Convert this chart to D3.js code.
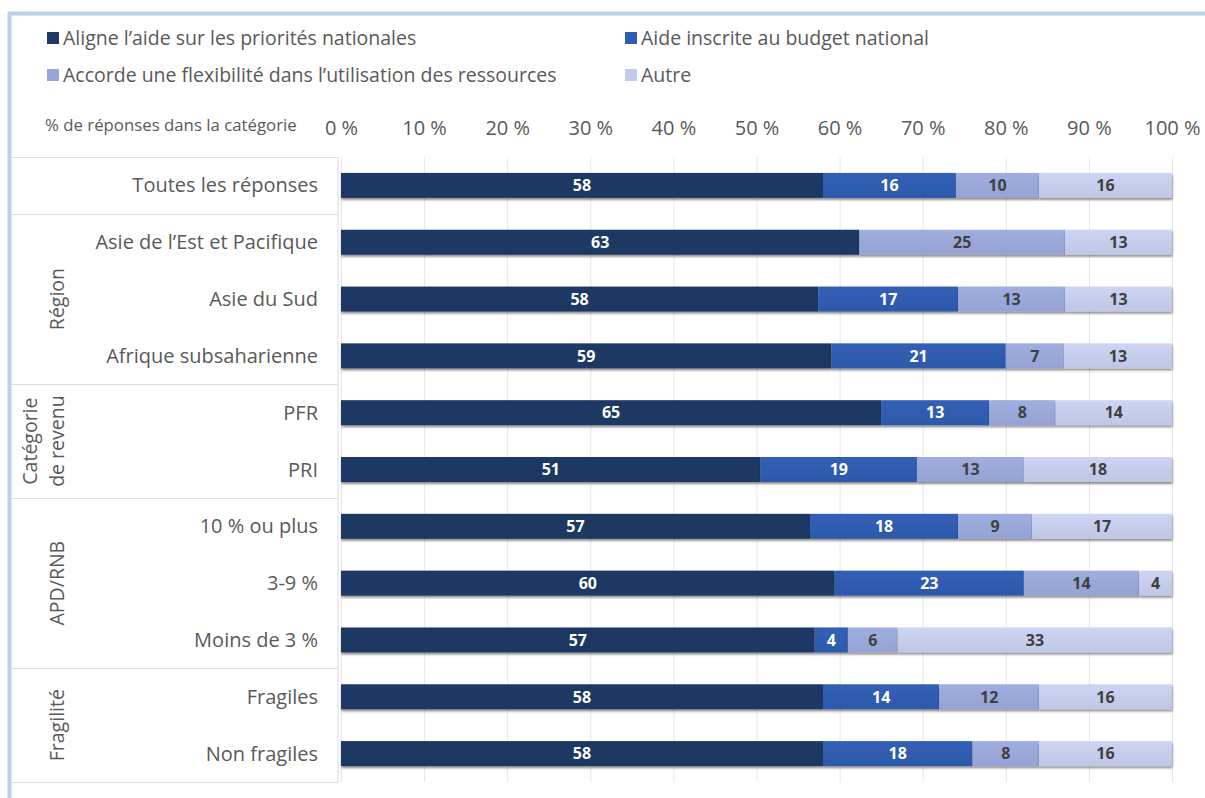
<!DOCTYPE html>
<html>
<head>
<meta charset="utf-8">
<script src="https://cdn.jsdelivr.net/npm/d3@7"></script>
<style>
  html, body { margin: 0; padding: 0; background: #ffffff; }
  svg { display: block; }
  text { font-family: "Open Sans", "Noto Sans", sans-serif; }
</style>
</head>
<body>
<svg id="chart" width="1205" height="798"></svg>
<script>
// Series (stack order, left to right)
const seriesNames = [
  "Aligne l’aide sur les priorités nationales",
  "Aide inscrite au budget national",
  "Accorde une flexibilité dans l’utilisation des ressources",
  "Autre"
];
const seriesKeys = ["aligne", "budget", "flex", "autre"];
const seriesColors = ["#1f3864", "#2f5bae", "#98a6d7", "#c4cbea"];
const labelColors = ["#ffffff", "#ffffff", "#3f3f3f", "#3f3f3f"];

// Row categories and their groups
const categories = [
  "Toutes les réponses",
  "Asie de l’Est et Pacifique", "Asie du Sud", "Afrique subsaharienne",
  "PFR", "PRI",
  "10 % ou plus", "3-9 %", "Moins de 3 %",
  "Fragiles", "Non fragiles"
];
const groupNames = [[""], ["Région"], ["Catégorie", "de revenu"], ["APD/RNB"], ["Fragilité"]];
const groupSizes = [1, 3, 2, 3, 2];

// Values (% of responses) per series, in category order
const aligneValues = [58, 63, 58, 59, 65, 51, 57, 60, 57, 58, 58];
const budgetValues = [16, 0, 17, 21, 13, 19, 18, 23, 4, 14, 18];
const flexValues   = [10, 25, 13, 7, 8, 13, 9, 14, 6, 12, 8];
const autreValues  = [16, 13, 13, 13, 14, 18, 17, 4, 33, 16, 16];

const tickValues = [0, 0.1, 0.2, 0.3, 0.4, 0.5, 0.6, 0.7, 0.8, 0.9, 1.0];
const axisTitle = "% de réponses dans la catégorie";

const rows = categories.map((c, i) => ({
  category: c,
  aligne: aligneValues[i],
  budget: budgetValues[i],
  flex: flexValues[i],
  autre: autreValues[i]
}));

const svg = d3.select("#chart");
const textGray = "#595959";
const fs = 19.5;

// Outer frame
svg.append("line").attr("x1", 8).attr("x2", 1205).attr("y1", 13.5).attr("y2", 13.5)
  .attr("stroke", "#bcd0ea").attr("stroke-width", 4);
svg.append("line").attr("x1", 9.5).attr("x2", 9.5).attr("y1", 12).attr("y2", 798)
  .attr("stroke", "#bcd0ea").attr("stroke-width", 4);

// Scales
const x = d3.scaleLinear().domain([0, 1]).range([341, 1172]);
const y = d3.scaleBand().domain(categories).range([157, 782])
  .paddingInner(0.56).paddingOuter(0.28);
const step = y.step();

// Defs: gradients and bar shadow
const defs = svg.append("defs");
seriesColors.forEach((c, i) => {
  const g = defs.append("linearGradient").attr("id", "grad" + i)
    .attr("x1", 0).attr("x2", 0).attr("y1", 0).attr("y2", 1);
  const base = d3.color(c);
  g.append("stop").attr("offset", "0%").attr("stop-color", i === 0 ? base.formatHex() : base.brighter(0.12).formatHex());
  g.append("stop").attr("offset", "100%").attr("stop-color", i === 0 ? base.formatHex() : base.darker(0.06).formatHex());
});
const shadow = defs.append("filter").attr("id", "shadow")
  .attr("x", "-2%").attr("y", "-20%").attr("width", "104%").attr("height", "160%");
shadow.append("feDropShadow").attr("dx", 0.5).attr("dy", 2)
  .attr("stdDeviation", 1.2).attr("flood-color", "#000000").attr("flood-opacity", 0.45);

// Gridlines
svg.append("g").selectAll("line").data(tickValues).join("line")
  .attr("x1", d => x(d) + 0.5).attr("x2", d => x(d) + 0.5)
  .attr("y1", 157).attr("y2", 782)
  .attr("stroke", "#e6e6e6").attr("stroke-width", 1);

// Top axis labels
const axis = d3.axisTop(x).tickValues(tickValues)
  .tickFormat(d => Math.round(d * 100) + " %").tickSize(0).tickPadding(0);
const axisG = svg.append("g").attr("transform", "translate(0,135)").call(axis);
axisG.select(".domain").remove();
axisG.selectAll("text").attr("fill", textGray).attr("font-size", 20)
  .attr("font-family", "\"Open Sans\", sans-serif");

svg.append("text").attr("x", 45).attr("y", 131).attr("fill", textGray)
  .attr("font-size", 16.8).text(axisTitle);

// Category table on the left
const tableLeft = 12, tableRight = 338;
let startIdx = 0;
const groupBounds = groupSizes.map(n => {
  const top = y(categories[startIdx]) - step * 0.28;
  const bottom = top + n * step;
  startIdx += n;
  return [top, bottom];
});
svg.append("line").attr("x1", tableRight).attr("x2", tableRight).attr("y1", 157).attr("y2", 782)
  .attr("stroke", "#dcdcdc");
const bounds = [157].concat(groupBounds.map(b => b[1]));
svg.append("g").selectAll("line").data(bounds).join("line")
  .attr("x1", tableLeft).attr("x2", tableRight)
  .attr("y1", d => Math.round(d) + 0.5).attr("y2", d => Math.round(d) + 0.5)
  .attr("stroke", "#dcdcdc");

svg.append("g").selectAll("text").data(categories).join("text")
  .attr("x", 318).attr("y", d => y(d) + y.bandwidth() / 2)
  .attr("dy", "0.35em").attr("text-anchor", "end")
  .attr("fill", textGray).attr("font-size", 20).text(d => d);

groupNames.forEach((lines, gi) => {
  if (!lines[0]) return;
  const cy = (groupBounds[gi][0] + groupBounds[gi][1]) / 2;
  const cx = lines.length > 1 ? 30 : 57;
  const t = svg.append("text")
    .attr("transform", `translate(${cx},${cy}) rotate(-90)`)
    .attr("text-anchor", "middle").attr("fill", textGray).attr("font-size", fs);
  lines.forEach((ln, li) => {
    t.append("tspan").attr("x", 0).attr("dy", li === 0 ? "0.35em" : "1.4em").text(ln);
  });
});

// Stacked bars (shares of the row total)
const stack = d3.stack().keys(seriesKeys).offset(d3.stackOffsetExpand);
const layers = stack(rows);

const barsG = svg.append("g");
layers.forEach((layer, si) => {
  const g = barsG.append("g").attr("filter", "url(#shadow)");
  g.selectAll("rect").data(layer.filter(d => d.data[seriesKeys[si]] > 0)).join("rect")
    .attr("x", d => x(d[0]))
    .attr("y", d => y(d.data.category))
    .attr("width", d => x(d[1]) - x(d[0]))
    .attr("height", y.bandwidth())
    .attr("fill", `url(#grad${si})`);
});
layers.forEach((layer, si) => {
  barsG.append("g").selectAll("text")
    .data(layer.filter(d => d.data[seriesKeys[si]] > 0)).join("text")
    .attr("x", d => (x(d[0]) + x(d[1])) / 2)
    .attr("y", d => y(d.data.category) + y.bandwidth() / 2)
    .attr("dy", "0.36em").attr("text-anchor", "middle")
    .attr("font-size", 16).attr("font-weight", "bold")
    .attr("fill", labelColors[si])
    .text(d => d.data[seriesKeys[si]]);
});

// Legend
const legendPos = [[47, 38], [625, 38], [47, 75], [625, 75]];
const legend = svg.append("g").selectAll("g").data(seriesNames).join("g")
  .attr("transform", (d, i) => `translate(${legendPos[i][0]},${legendPos[i][1]})`);
legend.append("rect").attr("x", 0).attr("y", -6).attr("width", 12).attr("height", 12)
  .attr("fill", (d, i) => seriesColors[i]);
legend.append("text").attr("x", 16).attr("y", 0).attr("dy", "0.35em")
  .attr("fill", textGray).attr("font-size", fs).text(d => d);
</script>
</body>
</html>
